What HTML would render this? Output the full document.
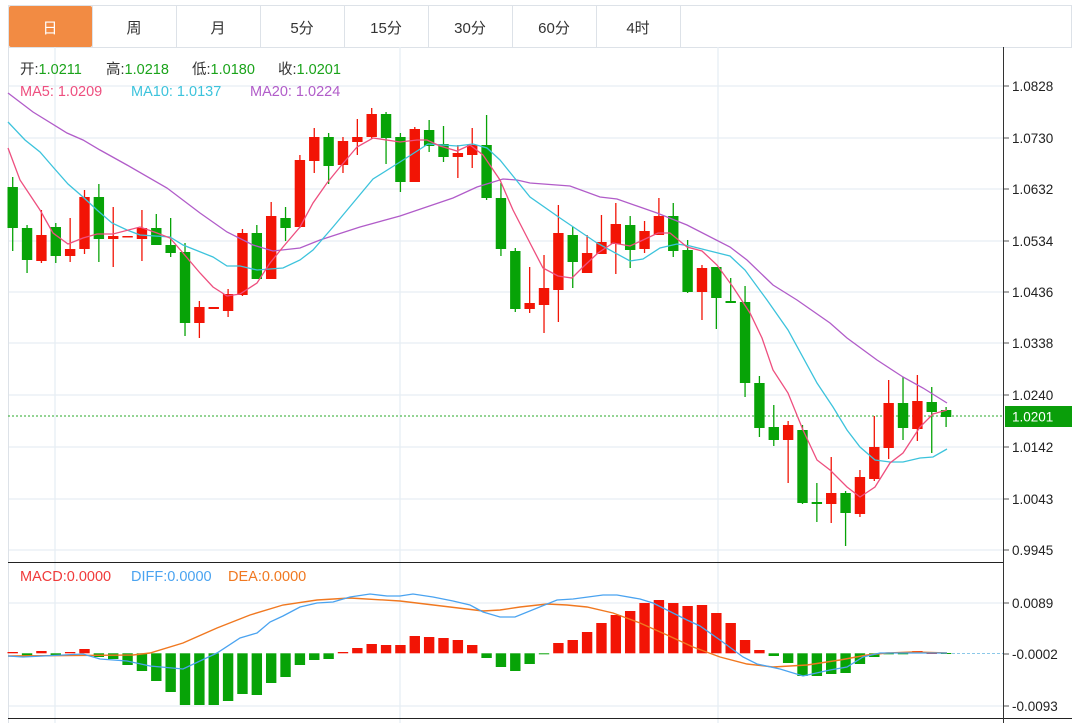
<!DOCTYPE html>
<html><head><meta charset="utf-8"><style>
body{margin:0;background:#fff;}
svg{display:block;font-family:"Liberation Sans","Noto Sans CJK SC",sans-serif;}
</style></head><body>
<svg width="1072" height="723" viewBox="0 0 1072 723" xmlns="http://www.w3.org/2000/svg">
<rect width="1072" height="723" fill="#fff"/>
<g stroke="#dde2e8" stroke-width="1" fill="#fff">
<rect x="8.5" y="5.5" width="1063" height="42"/>
</g>
<rect x="9" y="6" width="83" height="41" fill="#f28b43" rx="2"/>
<g stroke="#dde2e8"><line x1="92.5" y1="5" x2="92.5" y2="47"/><line x1="176.5" y1="5" x2="176.5" y2="47"/><line x1="260.5" y1="5" x2="260.5" y2="47"/><line x1="344.5" y1="5" x2="344.5" y2="47"/><line x1="428.5" y1="5" x2="428.5" y2="47"/><line x1="512.5" y1="5" x2="512.5" y2="47"/><line x1="596.5" y1="5" x2="596.5" y2="47"/><line x1="680.5" y1="5" x2="680.5" y2="47"/></g>
<g font-size="15" text-anchor="middle" fill="#333"><text x="50" y="33" fill="#fff">日</text><text x="134" y="33">周</text><text x="218" y="33">月</text><text x="302" y="33">5分</text><text x="386" y="33">15分</text><text x="470" y="33">30分</text><text x="554" y="33">60分</text><text x="638" y="33">4时</text></g>
<g stroke="#e6edf3" stroke-width="1.3">
<line x1="8" y1="86" x2="1003" y2="86"/><line x1="8" y1="138" x2="1003" y2="138"/><line x1="8" y1="189" x2="1003" y2="189"/><line x1="8" y1="241" x2="1003" y2="241"/><line x1="8" y1="292" x2="1003" y2="292"/><line x1="8" y1="343" x2="1003" y2="343"/><line x1="8" y1="395" x2="1003" y2="395"/><line x1="8" y1="447" x2="1003" y2="447"/><line x1="8" y1="499" x2="1003" y2="499"/><line x1="8" y1="550" x2="1003" y2="550"/>
<line x1="8" y1="603" x2="1003" y2="603"/><line x1="8" y1="706" x2="1003" y2="706"/>
<line x1="55" y1="47" x2="55" y2="723"/><line x1="400" y1="47" x2="400" y2="723"/><line x1="718" y1="47" x2="718" y2="723"/>
</g>
<line x1="8.5" y1="47" x2="8.5" y2="723" stroke="#dde2e8"/>
<line x1="8" y1="562.5" x2="1003" y2="562.5" stroke="#222"/>
<line x1="8" y1="718.5" x2="1072" y2="718.5" stroke="#222"/>
<line x1="1003.5" y1="47" x2="1003.5" y2="723" stroke="#333"/>
<g font-size="14.5">
<text x="20" y="74" fill="#333">开:<tspan fill="#1aa31a">1.0211</tspan></text>
<text x="106" y="74" fill="#333">高:<tspan fill="#1aa31a">1.0218</tspan></text>
<text x="192" y="74" fill="#333">低:<tspan fill="#1aa31a">1.0180</tspan></text>
<text x="278" y="74" fill="#333">收:<tspan fill="#1aa31a">1.0201</tspan></text>
<text x="20" y="96" fill="#ee4f7f">MA5: 1.0209</text><text x="131" y="96" fill="#3cc3dc">MA10: 1.0137</text><text x="250" y="96" fill="#b15cc9">MA20: 1.0224</text>
<text x="20" y="581" fill="#f03a3a">MACD:0.0000</text><text x="131" y="581" fill="#4aa3f0">DIFF:0.0000</text><text x="228" y="581" fill="#f07820">DEA:0.0000</text>
</g>
<g font-size="13.5" fill="#222">
<g stroke="#555"><line x1="1004" y1="86" x2="1009" y2="86"/><line x1="1004" y1="138" x2="1009" y2="138"/><line x1="1004" y1="189" x2="1009" y2="189"/><line x1="1004" y1="241" x2="1009" y2="241"/><line x1="1004" y1="292" x2="1009" y2="292"/><line x1="1004" y1="343" x2="1009" y2="343"/><line x1="1004" y1="395" x2="1009" y2="395"/><line x1="1004" y1="447" x2="1009" y2="447"/><line x1="1004" y1="499" x2="1009" y2="499"/><line x1="1004" y1="550" x2="1009" y2="550"/><line x1="1004" y1="603" x2="1009" y2="603"/><line x1="1004" y1="654" x2="1009" y2="654"/><line x1="1004" y1="706" x2="1009" y2="706"/></g>
<text x="1012" y="91">1.0828</text><text x="1012" y="143">1.0730</text><text x="1012" y="194">1.0632</text><text x="1012" y="246">1.0534</text><text x="1012" y="297">1.0436</text><text x="1012" y="348">1.0338</text><text x="1012" y="400">1.0240</text><text x="1012" y="452">1.0142</text><text x="1012" y="504">1.0043</text><text x="1012" y="555">0.9945</text>
<text x="1012" y="608">0.0089</text><text x="1012" y="659">-0.0002</text><text x="1012" y="711">-0.0093</text>
</g>
<line x1="8" y1="416" x2="1003" y2="416" stroke="#2aaa2a" stroke-dasharray="2,2"/>
<rect x="1005" y="406" width="67" height="21" fill="#0a9e0a"/>
<text x="1012" y="421.5" font-size="13.5" fill="#fff">1.0201</text>
<line x1="947" y1="653.5" x2="1003" y2="653.5" stroke="#8cc8e8" stroke-dasharray="3,2"/>
<g id="candles"></g>
<g id="macd"></g>
<polyline fill="none" stroke="#b15cc9" stroke-width="1.3" points="8,93 33,112 67,133 83,140 100,150 127,165 167,188 200,213 227,232 253,245 273,251 300,248 320,240 360,227 400,216 453,198 477,187 503,179 517,180 530,183 570,186 600,197 617,199 637,206 657,213 687,225 730,247 747,260 773,285 797,300 830,323 847,338 877,360 903,377 923,388 947,403"/>
<polyline fill="none" stroke="#3cc3dc" stroke-width="1.3" points="8,122 25,140 40,152 53,167 68,184 83,197 97,210 112,223 127,230 140,235 170,237 183,245 213,257 227,266 240,266 257,270 283,268 300,260 313,250 333,227 353,203 373,179 400,162 428,144 457,146 473,144 487,148 500,160 530,197 560,218 597,243 630,261 643,259 660,248 677,244 690,246 730,256 745,270 767,300 788,330 817,383 833,407 847,430 860,447 875,460 890,462 903,462 920,458 933,457 947,449"/>
<polyline fill="none" stroke="#ee4f7f" stroke-width="1.3" points="8,148 20,180 40,210 53,233 68,244 83,238 97,234 113,234 140,227 157,233 170,238 183,253 200,273 213,287 227,296 240,294 257,283 270,263 283,247 300,227 313,203 327,183 340,167 357,147 373,138 400,142 417,140 427,140 440,146 457,151 470,145 483,155 500,180 513,210 530,243 543,268 558,276 572,278 583,267 598,253 613,243 630,246 643,240 658,233 670,233 687,247 702,251 717,265 733,287 750,313 762,338 773,370 788,393 803,430 817,460 830,470 847,487 860,497 875,487 890,463 903,453 920,427 933,414 947,410"/>
<polyline fill="none" stroke="#f07820" stroke-width="1.4" points="8,656 133,655 150,653 183,643 217,628 250,615 283,605 317,600 350,598 400,601 450,607 483,611 500,610 520,607 547,604 567,605 587,607 613,613 640,623 667,635 693,647 720,657 747,664 773,667 807,665 840,660 867,655 887,653 913,652 947,653"/>
<polyline fill="none" stroke="#4aa3f0" stroke-width="1.3" points="8,656 23,657 83,654 100,659 127,661 150,666 183,669 217,653 240,638 257,633 270,622 283,616 300,607 317,603 333,602 350,597 370,594 387,596 400,596 413,594 433,597 453,601 470,605 483,612 500,617 515,617 557,600 573,599 603,595 617,595 640,599 653,603 667,610 687,620 700,626 720,640 743,657 757,664 780,669 803,676 830,670 847,667 863,657 880,653 913,653 947,653"/>
</svg>
<script>
var C=[[187,228,177,251,0],[228,260,225,273,0],[235,261,210,263,1],[227,256,223,263,0],[249,256,218,262,1],[197,249,190,254,1],[197,239,184,262,0],[236,239,207,267,1],[236,237,236,237,1],[228,239,210,261,1],[228,245,214,245,0],[245,253,218,257,0],[252,323,243,336,0],[307,323,301,338,1],[307,309,307,309,1],[294,311,289,317,1],[233,295,229,296,1],[233,279,225,279,0],[216,279,202,279,1],[218,228,207,241,0],[160,227,155,228,1],[137,161,128,173,1],[137,166,133,184,0],[141,165,137,173,1],[137,142,119,155,1],[114,137,108,139,1],[114,138,112,164,0],[137,182,133,192,0],[129,182,127,182,1],[130,146,120,152,0],[144,157,126,162,0],[153,157,145,178,1],[145,155,128,168,1],[145,198,115,200,0],[198,249,183,256,0],[251,309,248,312,0],[303,309,267,313,1],[288,305,255,333,1],[233,290,205,322,1],[235,262,227,288,0],[253,273,235,273,1],[242,254,215,254,1],[224,244,203,274,1],[225,250,216,268,0],[231,249,221,253,1],[216,235,198,235,1],[216,251,203,257,0],[250,292,240,293,0],[268,292,265,320,1],[267,298,267,329,0],[301,303,278,303,0],[302,383,286,397,0],[383,428,376,437,0],[427,440,405,446,0],[425,440,421,483,1],[430,503,425,504,0],[502,504,483,522,0],[493,504,457,523,1],[493,513,491,546,0],[477,514,470,517,1],[447,479,416,481,1],[403,448,380,459,1],[403,428,377,440,0],[401,429,375,441,1],[402,412,387,453,0],[410,417,407,427,0]];
var M=[[652,1],[656,0],[651,1],[655,0],[652,1],[649,1],[657,0],[659,0],[665,0],[671,0],[681,0],[692,0],[705,0],[705,0],[705,0],[701,0],[694,0],[695,0],[683,0],[677,0],[665,0],[660,0],[659,0],[652,1],[648,1],[644,1],[645,1],[645,1],[636,1],[637,1],[638,1],[640,1],[645,1],[658,0],[667,0],[671,0],[664,0],[654,0],[643,1],[640,1],[632,1],[623,1],[615,1],[611,1],[603,1],[600,1],[603,1],[606,1],[605,1],[613,1],[623,1],[640,1],[650,1],[656,0],[663,0],[676,0],[676,0],[674,0],[673,0],[664,0],[657,0],[654,0],[654,0],[651,1],[653,1],[653,0]];
var g=document.getElementById("candles"),h="";
for(var i=0;i<C.length;i++){var c=C[i],x=12.7+i*14.36,col=c[4]?"#f21405":"#07a307";
h+='<line x1="'+x+'" x2="'+x+'" y1="'+c[2]+'" y2="'+c[3]+'" stroke="'+col+'" stroke-width="1.3"/>';
var hh=Math.max(c[1]-c[0],1.5);h+='<rect x="'+(x-5.2)+'" y="'+c[0]+'" width="10.4" height="'+hh+'" fill="'+col+'"/>';}
g.innerHTML=h;h="";
for(var i=0;i<M.length;i++){var m=M[i],x=12.7+i*14.36,z=653.3,col=m[1]?"#f21405":"#07a307";
var y=Math.min(m[0],z),hh=Math.max(Math.abs(m[0]-z),1);h+='<rect x="'+(x-5.2)+'" y="'+y+'" width="10.4" height="'+hh+'" fill="'+col+'"/>';}
document.getElementById("macd").innerHTML=h;
</script>
</body></html>
